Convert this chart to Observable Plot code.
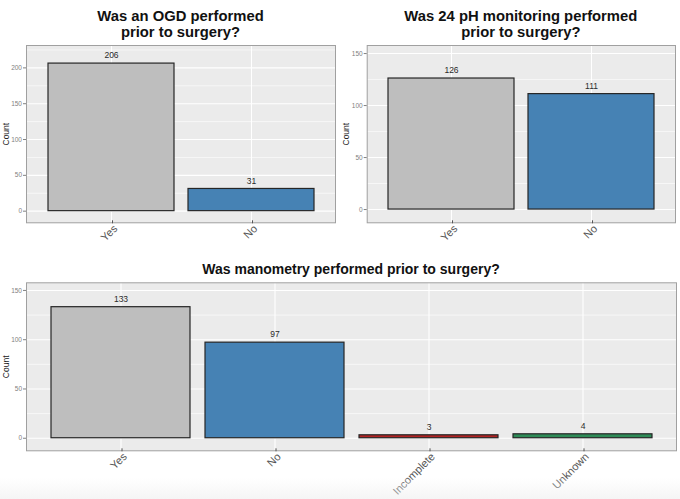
<!DOCTYPE html>
<html>
<head>
<meta charset="utf-8">
<script src="https://cdn.jsdelivr.net/npm/d3@7"></script>
<script src="https://cdn.jsdelivr.net/npm/@observablehq/plot@0.6"></script>
<style>
  html, body { margin: 0; padding: 0; background: white; }
  #wrap { position: relative; width: 680px; height: 499px; overflow: hidden; font-family: "Liberation Sans", Arial, sans-serif; }
  .title { position: absolute; text-align: center; font-weight: bold; color: #111; white-space: nowrap; }
  .chart { position: absolute; }
  .chart svg { overflow: visible; }
  #fade { position: absolute; left: 0; top: 478px; width: 680px; height: 21px;
          background: linear-gradient(to bottom, rgba(255,255,255,0.15), rgba(238,238,238,0.6)); pointer-events: none; }
</style>
</head>
<body>
<div id="wrap"></div>
<script>
// ---- data ----
const ogdCategories = ["Yes", "No"];
const ogdCounts = [206, 31];

const phCategories = ["Yes", "No"];
const phCounts = [126, 111];

const manoCategories = ["Yes", "No", "Incomplete", "Unknown"];
const manoCounts = [133, 97, 3, 4];

const fillColors = ["#BEBEBE", "#4682B4", "#B22222", "#2E8B57"];

const ogdYTicks = [0, 50, 100, 150, 200];
const ogdYMinor = [25, 75, 125, 175, 225];
const otherYTicks = [0, 50, 100, 150];
const otherYMinor = [25, 75, 125];

const titles = {
  ogd: ["Was an OGD performed", "prior to surgery?"],
  ph: ["Was 24 pH monitoring performed", "prior to surgery?"],
  mano: ["Was manometry performed prior to surgery?"]
};

// ---- chart builder ----
function makeChart({cats, counts, limits, ticks, minor, width, height, ml, mr, mt, mb}) {
  const data = cats.map((c, i) => ({cat: c, count: counts[i]}));
  const span = limits[1] - limits[0];
  return Plot.plot({
    width, height,
    marginLeft: ml, marginRight: mr, marginTop: mt, marginBottom: mb,
    style: {fontFamily: "'Liberation Sans', Arial, sans-serif", background: "transparent", overflow: "visible"},
    x: {type: "band", domain: cats, paddingInner: 0.1, paddingOuter: 0.15, align: 0.5, label: null},
    y: {domain: [limits[0] - 0.05 * span, limits[1] + 0.05 * span], label: null},
    color: {domain: cats, range: fillColors.slice(0, cats.length)},
    marks: [
      Plot.frame({fill: "#EBEBEB", stroke: null}),
      Plot.ruleY(minor, {stroke: "white", strokeWidth: 0.6}),
      Plot.ruleY(ticks, {stroke: "white", strokeWidth: 1.1}),
      Plot.ruleX(cats, {stroke: "white", strokeWidth: 1.1}),
      Plot.barY(data, {x: "cat", y: "count", fill: "cat", stroke: "#262626", strokeWidth: 1.2}),
      Plot.text(data, {x: "cat", y: "count", text: d => String(d.count), dy: -8, fontSize: 8.5, fill: "#2a2a2a"}),
      Plot.frame({stroke: "#a0a0a0", strokeWidth: 1}),
      Plot.axisY({ticks, tickSize: 3, tickPadding: 1.5, fontSize: 6.5, color: "#808080", label: null}),
      Plot.axisY({ticks: [], tickSize: 0, fontSize: 8.5, color: "#222",
                  label: "Count", labelAnchor: "center", labelArrow: "none", labelOffset: 24}),
      Plot.axisX({tickSize: 3, tickPadding: 0, tickRotate: -45, lineAnchor: "top", textAnchor: "end",
                  dx: 1, dy: -2, fontSize: 11, color: "#555", label: null})
    ]
  });
}

const wrap = document.getElementById("wrap");

function addTitle(lines, left, width, top, size, step) {
  lines.forEach((line, i) => {
    const t = document.createElement("div");
    t.className = "title";
    t.style.left = left + "px";
    t.style.width = width + "px";
    t.style.top = (top + i * step) + "px";
    t.style.fontSize = size + "px";
    t.style.lineHeight = step + "px";
    t.textContent = line;
    wrap.appendChild(t);
  });
}

function addChart(svg, left, top) {
  const d = document.createElement("div");
  d.className = "chart";
  d.style.left = left + "px";
  d.style.top = top + "px";
  d.appendChild(svg);
  wrap.appendChild(d);
}

// Top-left
addTitle(titles.ogd, 26, 309, 7.5, 14.8, 16);
addChart(makeChart({cats: ogdCategories, counts: ogdCounts, limits: [-5, 220], ticks: ogdYTicks, minor: ogdYMinor,
  width: 340, height: 210, ml: 26, mr: 5, mt: 5, mb: 27.7}), 0, 40);

// Top-right
addTitle(titles.ph, 366.7, 308.3, 7.5, 14.8, 16);
addChart(makeChart({cats: phCategories, counts: phCounts, limits: [-5, 150], ticks: otherYTicks, minor: otherYMinor,
  width: 340, height: 210, ml: 26.7, mr: 5, mt: 5, mb: 27.7}), 340, 40);

// Bottom
addTitle(titles.mano, 26, 650, 260.5, 14, 16);
addChart(makeChart({cats: manoCategories, counts: manoCounts, limits: [-5, 150], ticks: otherYTicks, minor: otherYMinor,
  width: 680, height: 224, ml: 26, mr: 4, mt: 7.3, mb: 48.7}), 0, 275);

const fade = document.createElement("div");
fade.id = "fade";
wrap.appendChild(fade);
</script>
</body>
</html>
